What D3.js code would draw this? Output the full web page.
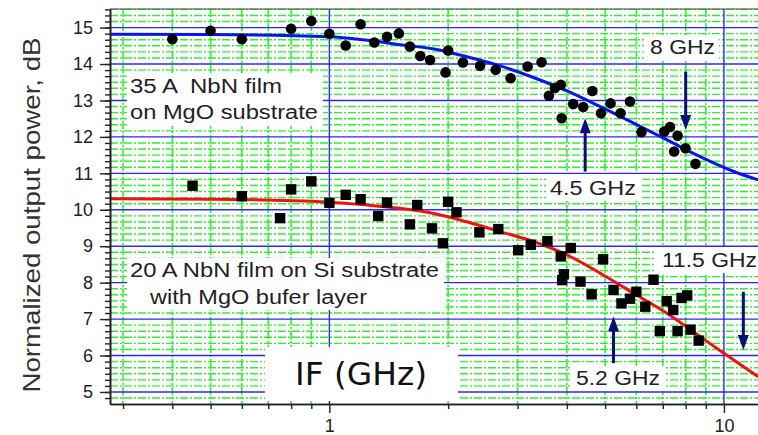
<!DOCTYPE html>
<html>
<head>
<meta charset="utf-8">
<script src="https://cdn.jsdelivr.net/npm/d3@7"></script>
<style>
  body { margin: 0; background: #fff; }
  text { font-family: "Liberation Sans", Arial, sans-serif; fill: #222; white-space: pre; }
</style>
</head>
<body>
<div id="chart"></div>
<script>
// measured points, film on MgO (circles)
const mgoFreq = [0.40, 0.50, 0.60, 0.80, 0.90, 1.00, 1.10, 1.20, 1.30, 1.40, 1.50, 1.60, 1.70, 1.80, 1.97, 2.00, 2.18, 2.41, 2.64, 2.88, 3.18, 3.45, 3.60, 3.73, 3.86, 3.88, 4.15, 4.40, 4.64, 4.88, 5.16, 5.47, 5.78, 6.18, 7.06, 7.30, 7.63, 7.48, 7.99, 8.47];
const mgoDb   = [14.68, 14.91, 14.68, 14.97, 15.18, 14.83, 14.51, 15.09, 14.59, 14.75, 14.84, 14.48, 14.22, 14.11, 13.77, 14.37, 14.04, 13.95, 13.84, 13.61, 13.93, 14.05, 13.13, 13.34, 13.43, 12.51, 12.90, 12.82, 13.26, 12.65, 12.92, 12.65, 12.97, 12.13, 12.15, 12.27, 12.03, 11.60, 11.69, 11.26];

// measured points, film on Si with MgO buffer (squares)
const siFreq = [0.45, 0.60, 0.75, 0.80, 0.90, 1.00, 1.10, 1.20, 1.33, 1.40, 1.60, 1.67, 1.82, 1.94, 2.00, 2.10, 2.40, 2.68, 3.01, 3.24, 3.57, 3.86, 4.09, 3.93, 3.89, 4.33, 4.62, 4.94, 5.25, 5.50, 5.78, 6.00, 6.32, 6.63, 6.88, 7.16, 7.44, 7.63, 7.81, 8.07, 8.23, 8.63];
const siDb   = [10.66, 10.37, 9.77, 10.56, 10.78, 10.19, 10.41, 10.29, 9.83, 10.20, 9.60, 10.13, 9.49, 9.08, 10.22, 9.93, 9.38, 9.47, 8.89, 9.04, 9.14, 8.72, 8.95, 8.23, 8.07, 8.03, 7.68, 8.64, 7.80, 7.43, 7.56, 7.75, 7.34, 8.08, 6.67, 7.49, 7.25, 6.67, 7.58, 7.65, 6.71, 6.41];

// fitted curves
const mgoFitFreq = [0.278, 0.5, 1.0, 1.25, 1.51, 1.84, 2.23, 2.71, 3.29, 4.0, 4.86, 5.90, 7.17, 8.70, 10.6, 12.2];
const mgoFitDb   = [14.82, 14.81, 14.75, 14.65, 14.53, 14.41, 14.20, 13.95, 13.63, 13.26, 12.83, 12.38, 11.92, 11.46, 11.05, 10.82];
const siFitFreq = [0.278, 0.5, 1.0, 1.25, 1.51, 1.84, 2.23, 2.71, 3.29, 4.0, 4.86, 5.90, 7.17, 8.70, 10.0, 12.2];
const siFitDb   = [10.30, 10.29, 10.21, 10.13, 10.04, 9.90, 9.67, 9.40, 9.13, 8.76, 8.26, 7.71, 7.16, 6.52, 6.06, 5.42];

// ticks
const xMajor = [1, 10];
const xMinor = [0.3, 0.4, 0.5, 0.6, 0.7, 0.8, 0.9, 2, 3, 4, 5, 6, 7, 8, 9];
const yMajor = [5, 6, 7, 8, 9, 10, 11, 12, 13, 14, 15];

// arrow annotations: frequency, from dB, to dB (tip)
const arrowFreq = [8.0, 4.45, 5.25, 11.2];
const arrowFrom = [13.79, 11.05, 5.79, 7.75];
const arrowTo   = [12.19, 12.51, 7.07, 6.15];
const arrowLabels = ["8 GHz", "4.5 GHz", "5.2 GHz", "11.5 GHz"];

const W = 758, H = 435;
const svg = d3.select("#chart").append("svg")
  .attr("width", W).attr("height", H);

const x = d3.scaleLog().domain([0.278, 12.2]).range([110, 758]);
const y = d3.scaleLinear().domain([4.67, 15.51]).range([404, 9]);

const yMinorAll = d3.range(Math.ceil(4.67 * 6), Math.floor(15.51 * 6) + 1).map(d => d / 6);
const yMinor = yMinorAll.filter(d => Math.abs(d - Math.round(d)) > 0.01);

// green minor grid
const grid = svg.append("g");
grid.selectAll(".gh").data(yMinor).enter().append("line")
  .attr("x1", 110).attr("x2", W)
  .attr("y1", d => y(d)).attr("y2", d => y(d))
  .style("stroke", "#2ef02e").style("stroke-width", 1.4)
  .style("stroke-dasharray", "8,2,2,2");
grid.selectAll(".gv").data(xMinor).enter().append("line")
  .attr("x1", d => x(d)).attr("x2", d => x(d))
  .attr("y1", 9).attr("y2", 404)
  .style("stroke", "#2ef02e").style("stroke-width", 1.6)
  .style("stroke-dasharray", "8,2,2,2");

// blue major grid
grid.selectAll(".bh").data(yMajor).enter().append("line")
  .attr("x1", 110).attr("x2", W)
  .attr("y1", d => y(d)).attr("y2", d => y(d))
  .style("stroke", "#2a2af0").style("stroke-width", 1.4);
grid.selectAll(".bv").data(xMajor).enter().append("line")
  .attr("x1", d => x(d)).attr("x2", d => x(d))
  .attr("y1", 9).attr("y2", 404)
  .style("stroke", "#2a2af0").style("stroke-width", 1.4);

// white label boxes
function box(x0, y0, w, h) {
  svg.append("rect").attr("x", x0).attr("y", y0).attr("width", w).attr("height", h)
    .style("fill", "#fff");
}
box(127, 75, 196, 51);
box(127, 258, 317, 52);
box(265, 347, 193, 54);
box(644, 37, 75, 23);
box(546, 174, 94, 25);
box(571, 366, 93, 25);
box(656, 247, 102, 26);

// fitted curves
const line = d3.line().x(d => x(d[0])).y(d => y(d[1])).curve(d3.curveMonotoneX);
svg.append("path").datum(d3.zip(mgoFitFreq, mgoFitDb))
  .attr("d", line).style("fill", "none").style("stroke", "#0a14ee").style("stroke-width", 3);
svg.append("path").datum(d3.zip(siFitFreq, siFitDb))
  .attr("d", line).style("fill", "none").style("stroke", "#f21010").style("stroke-width", 3);

// points
svg.append("g").selectAll("circle").data(d3.zip(mgoFreq, mgoDb)).enter().append("circle")
  .attr("cx", d => x(d[0])).attr("cy", d => y(d[1])).attr("r", 5.3)
  .style("fill", "#000");
svg.append("g").selectAll("rect").data(d3.zip(siFreq, siDb)).enter().append("rect")
  .attr("x", d => x(d[0]) - 5.2).attr("y", d => y(d[1]) - 5.2)
  .attr("width", 10.4).attr("height", 10.4)
  .style("fill", "#000");

// arrows: shaft + solid head
const headLen = 15, headHalf = 5.5;
const arrows = svg.append("g").selectAll("g").data(arrowFreq).enter().append("g");
arrows.append("line")
  .attr("x1", d => x(d)).attr("x2", d => x(d))
  .attr("y1", (d, i) => y(arrowFrom[i]))
  .attr("y2", (d, i) => {
    const y0 = y(arrowFrom[i]), y1 = y(arrowTo[i]);
    return y1 - Math.sign(y1 - y0) * (headLen - 2);
  })
  .style("stroke", "#0c0c78").style("stroke-width", 3);
arrows.append("path")
  .attr("d", (d, i) => {
    const cx = x(d), y0 = y(arrowFrom[i]), y1 = y(arrowTo[i]);
    const s = Math.sign(y1 - y0);
    const yb = y1 - s * headLen;
    return `M${cx},${y1} L${cx - headHalf},${yb} L${cx + headHalf},${yb} Z`;
  })
  .style("fill", "#0c0c78");

// texts
function label(t, tx, ty, size, len, fam) {
  const el = svg.append("text").attr("x", tx).attr("y", ty)
    .attr("xml:space", "preserve")
    .style("font-size", size + "px").text(t);
  if (len) el.attr("textLength", len).attr("lengthAdjust", "spacingAndGlyphs");
  if (fam) el.style("font-family", fam);
  return el;
}
label("35 A  NbN film", 130, 93, 19.5, 152);
label("on MgO substrate", 130, 119, 19.5, 188);
label("20 A NbN film on Si substrate", 130, 277, 19.5, 309);
label("with MgO bufer layer", 150, 304, 19.5, 217);
label(arrowLabels[0], 650, 54, 19.5, 65);
label(arrowLabels[1], 550, 195, 19.5, 86);
label(arrowLabels[2], 576, 385, 19.5, 84);
label(arrowLabels[3], 662, 267, 19.5, 95);
label("IF (GHz)", 295, 385, 32, 132, "'Comic Sans MS', 'DejaVu Sans', sans-serif")
  .style("fill", "#111");

// axes
svg.append("g").attr("transform", "translate(110,0)")
  .call(d3.axisLeft(y).tickValues(yMajor).tickSize(10).tickSizeOuter(0).tickPadding(7)
    .tickFormat(d3.format("d")));
svg.append("g").attr("transform", "translate(110,0)")
  .call(d3.axisLeft(y).tickValues(yMinorAll).tickSize(5).tickSizeOuter(0).tickFormat(""));
svg.append("g").attr("transform", "translate(0,404)")
  .call(d3.axisBottom(x).tickValues(xMajor).tickSize(9).tickSizeOuter(0).tickPadding(6)
    .tickFormat(d3.format("d")));
svg.append("g").attr("transform", "translate(0,404)")
  .call(d3.axisBottom(x).tickValues(xMinor).tickSize(5).tickSizeOuter(0).tickFormat(""));
svg.selectAll(".domain").style("stroke", "#222").style("stroke-width", 1.6);
svg.selectAll(".tick line").style("stroke", "#222").style("stroke-width", 1.4);
svg.selectAll(".tick text").style("font-size", "18px")
  .style("font-family", "'Liberation Sans', Arial, sans-serif").style("fill", "#222");

// top frame
svg.append("line").attr("x1", 110).attr("x2", W).attr("y1", 9).attr("y2", 9)
  .style("stroke", "#444").style("stroke-width", 1);

// y title
svg.append("text")
  .attr("transform", "translate(40,215) rotate(-90)")
  .attr("text-anchor", "middle")
  .style("font-size", "24px")
  .style("fill", "#333")
  .attr("textLength", 355).attr("lengthAdjust", "spacingAndGlyphs")
  .text("Normalized output power, dB");
</script>
</body>
</html>
